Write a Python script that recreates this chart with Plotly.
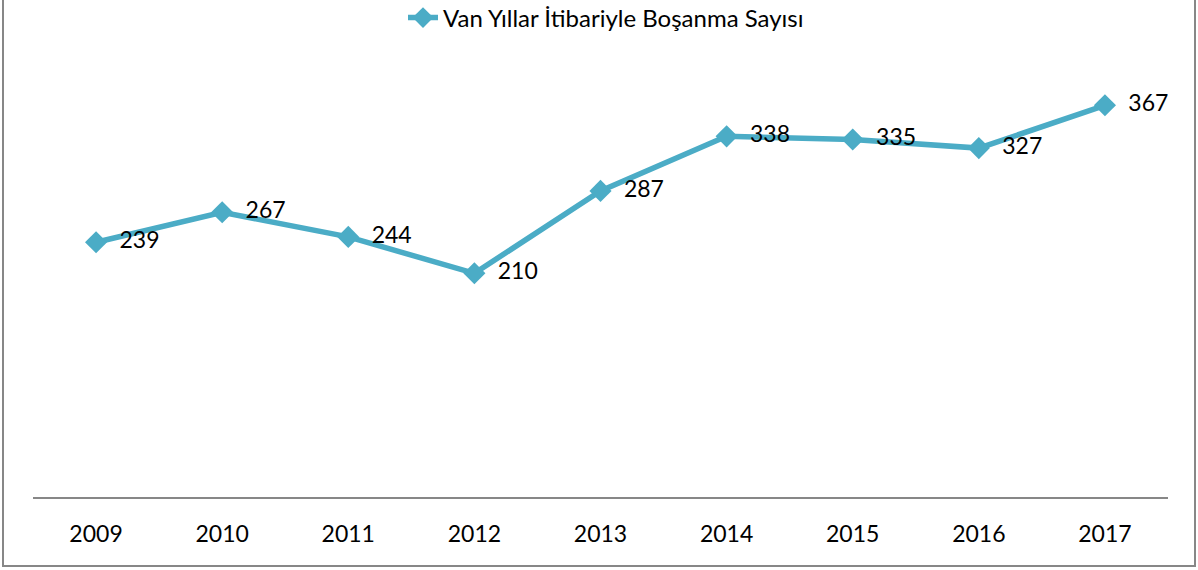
import plotly.graph_objects as go

years = ["2009", "2010", "2011", "2012", "2013", "2014", "2015", "2016", "2017"]
divorces = [239, 267, 244, 210, 287, 338, 335, 327, 367]
series_name = "Van Yıllar İtibariyle Boşanma Sayısı"

W, H = 1198, 570
ML, MR, MT, MB = 33, 30, 70, 72
color = "#4BACC6"
font = "Lato, 'Open Sans', sans-serif"

fig = go.Figure()
fig.add_trace(go.Scatter(
    x=years, y=divorces, name=series_name,
    mode="lines+markers+text",
    line=dict(color=color, width=5.5),
    marker=dict(symbol="diamond", size=17, color=color),
    text=["  " + str(v) for v in divorces],
    textposition="middle right",
    textfont=dict(family=font, size=23, color="#000000"),
    showlegend=True,
))

pw = W - ML - MR
ph = H - MT - MB
def px_x(p):
    return (p - ML) / pw
def px_y(p):
    return (H - MB - p) / ph

fig.add_shape(type="rect", xref="paper", yref="paper",
              x0=px_x(3), x1=px_x(1195), y0=px_y(566), y1=px_y(-10),
              line=dict(color="#878787", width=2), layer="below")

fig.update_layout(
    width=W, height=H,
    margin=dict(l=ML, r=MR, t=MT, b=MB, autoexpand=False),
    paper_bgcolor="white", plot_bgcolor="white",
    font=dict(family=font, size=23, color="#000000"),
    legend=dict(orientation="h", x=px_x(606), xanchor="center", y=px_y(18), yanchor="middle",
                font=dict(family=font, size=24),
                bgcolor="rgba(0,0,0,0)"),
    xaxis=dict(type="category", showgrid=False, zeroline=False,
               showline=False, ticks="", tickfont=dict(size=23),
               ticklabelstandoff=20, range=[-0.5, 8.5]),
    yaxis=dict(range=[0, 400], showgrid=False, zeroline=True, zerolinecolor="#878787",
               zerolinewidth=2, showticklabels=False, showline=False),
)

fig.write_html("out.html", config={"displayModeBar": False},
               post_script="document.body.style.margin='0';")
